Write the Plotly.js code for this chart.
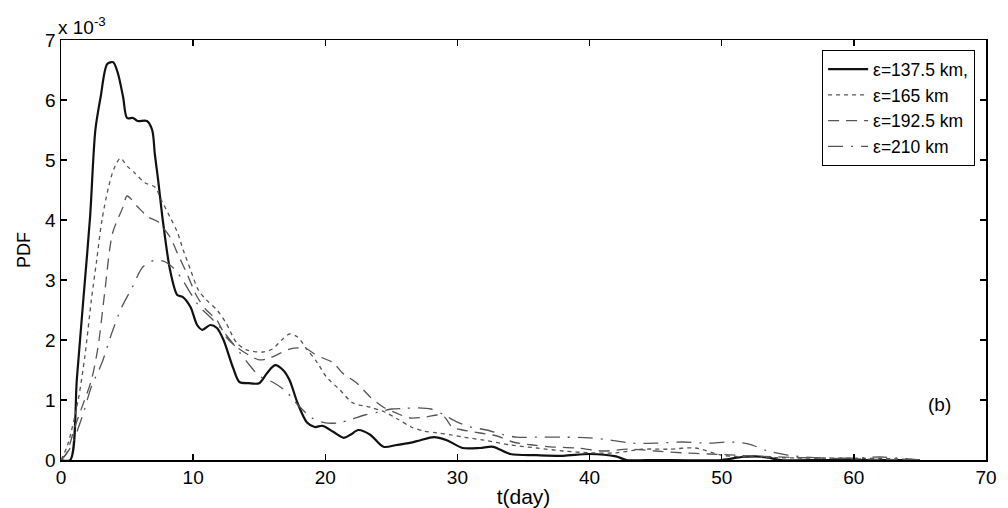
<!DOCTYPE html>
<html>
<head>
<meta charset="utf-8">
<script src="https://cdn.plot.ly/plotly-3.0.1.min.js"></script>
<style>body{margin:0;background:#fff}#chart{width:1008px;height:508px}</style>
</head>
<body>
<div id="chart"></div>
<script>
// Values in units of 10^-3
const seriesNames = ['ε=137.5 km,', 'ε=165 km', 'ε=192.5 km', 'ε=210 km'];

const t1 = [0, 0.7, 1.2, 1.7, 2.2, 2.6, 3.0, 3.5, 3.95, 4.3, 4.7, 5.0, 5.45, 5.8, 6.5, 6.9, 7.1, 7.35, 7.7, 8.25, 8.8, 9.2, 9.8, 10.3, 10.7, 11.3, 11.8, 12.3, 13.0, 13.5, 14.2, 15.0, 15.6, 16.2, 16.8, 17.3, 17.9, 18.6, 19.2, 19.8, 20.6, 21.4, 21.9, 22.5, 23.4, 24.4, 25.4, 26.3, 27.2, 28.2, 29.2, 30.4, 31.7, 32.7, 34.0, 36, 38, 40, 42, 42.8, 45, 50, 51.5, 52.5, 53.5, 54.5, 58, 65];
const v1 = [0, 0, 1.35, 2.7, 4.05, 5.5, 6.05, 6.6, 6.63, 6.45, 6.05, 5.7, 5.7, 5.65, 5.65, 5.5, 5.1, 4.67, 4.0, 3.17, 2.75, 2.72, 2.55, 2.25, 2.17, 2.25, 2.2, 2.0, 1.55, 1.3, 1.28, 1.28, 1.45, 1.58, 1.5, 1.33, 0.95, 0.63, 0.55, 0.57, 0.47, 0.37, 0.42, 0.5, 0.42, 0.22, 0.25, 0.28, 0.33, 0.38, 0.33, 0.2, 0.2, 0.22, 0.1, 0.08, 0.07, 0.1, 0.06, 0.0, 0.0, 0.0, 0.05, 0.06, 0.04, 0.0, 0.0, 0.0];

const t2 = [0, 0.5, 1.3, 1.8, 2.3, 2.7, 3.1, 3.6, 4.0, 4.5, 5.0, 5.6, 6.35, 7.1, 7.6, 8.25, 8.8, 9.25, 9.8, 10.4, 11.0, 11.8, 12.5, 13.3, 14.1, 15.3, 16.0, 16.7, 17.3, 17.9, 18.6, 19.4, 20.1, 21.1, 22.1, 23.4, 24.5, 25.5, 26.5, 27.5, 28.5, 29.5, 30.5, 32, 34, 36, 38, 40, 42, 44, 46, 48, 50, 52, 54, 57, 60, 63, 65];
const v2 = [0, 0.25, 1.0, 1.72, 2.67, 3.33, 4.0, 4.55, 4.85, 5.03, 4.9, 4.78, 4.62, 4.55, 4.33, 4.05, 3.8, 3.5, 3.17, 2.83, 2.67, 2.5, 2.28, 1.95, 1.83, 1.8, 1.85, 2.0, 2.1, 2.05, 1.85, 1.62, 1.38, 1.17, 0.95, 0.88, 0.8, 0.68, 0.55, 0.48, 0.45, 0.42, 0.38, 0.33, 0.25, 0.2, 0.15, 0.12, 0.12, 0.18, 0.18, 0.2, 0.08, 0.05, 0.04, 0.03, 0.03, 0.02, 0];

const t3 = [0, 0.4, 1.05, 1.7, 2.3, 2.8, 3.3, 3.9, 4.7, 5.0, 5.8, 6.6, 7.35, 7.8, 8.3, 8.8, 9.5, 10.3, 11.0, 11.8, 12.5, 13.3, 14.2, 15.0, 15.8, 16.6, 17.3, 18.0, 18.6, 19.1, 19.8, 20.6, 21.3, 22.4, 23.4, 24.4, 25.4, 26.4, 27.7, 28.5, 29.0, 29.6, 30.4, 31.7, 33.0, 34.2, 35.7, 37, 39, 41, 43, 45, 47, 49, 51, 53, 56, 60, 65];
const v3 = [0, 0.1, 0.55, 0.95, 1.33, 1.88, 2.78, 3.78, 4.22, 4.4, 4.22, 4.05, 3.97, 3.85, 3.7, 3.45, 3.12, 2.72, 2.5, 2.33, 2.05, 1.88, 1.75, 1.67, 1.7, 1.78, 1.85, 1.87, 1.85, 1.78, 1.7, 1.62, 1.45, 1.28, 1.05, 0.88, 0.78, 0.7, 0.72, 0.75, 0.72, 0.55, 0.5, 0.45, 0.4, 0.3, 0.25, 0.22, 0.2, 0.15, 0.18, 0.15, 0.12, 0.1, 0.08, 0.06, 0.04, 0.02, 0];

const t4 = [0, 0.7, 1.6, 2.3, 3.1, 3.85, 4.6, 5.4, 6.2, 7.1, 7.9, 8.5, 9.2, 9.8, 10.5, 11.3, 12.0, 12.8, 13.5, 14.2, 15.0, 16.0, 17.0, 18.0, 19.0, 20.0, 21.0, 22.0, 23.0, 24.0, 25.0, 26.0, 27.0, 28.0, 29.0, 30.0, 31.0, 32.2, 33.5, 34.5, 36, 38, 40, 41.6, 43.3, 45, 47, 49, 50.5, 52, 53.5, 55, 57, 60, 62, 65];
const v4 = [0, 0.2, 0.72, 1.22, 1.62, 2.12, 2.55, 2.88, 3.22, 3.33, 3.3, 3.2, 3.0, 2.78, 2.55, 2.38, 2.22, 2.0, 1.8, 1.6, 1.4, 1.3, 1.15, 0.9, 0.7, 0.62, 0.62, 0.68, 0.75, 0.8, 0.85, 0.86, 0.87, 0.85, 0.75, 0.63, 0.55, 0.5, 0.42, 0.38, 0.38, 0.38, 0.37, 0.33, 0.28, 0.28, 0.3, 0.28, 0.3, 0.27, 0.15, 0.08, 0.04, 0.03, 0.05, 0];

const xTicks = [0, 10, 20, 30, 40, 50, 60, 70];
const yTicks = [0, 1, 2, 3, 4, 5, 6, 7];

const FONT = 'Liberation Sans, Arial, sans-serif';
const traces = [
  {x: t1, y: v1, name: seriesNames[0], line: {color: '#111', width: 2.2, dash: 'solid'}},
  {x: t2, y: v2, name: seriesNames[1], line: {color: '#555', width: 1.3, dash: '4px,4px'}},
  {x: t3, y: v3, name: seriesNames[2], line: {color: '#555', width: 1.3, dash: '11px,7px'}},
  {x: t4, y: v4, name: seriesNames[3], line: {color: '#555', width: 1.3, dash: '15px,8px,2px,8px'}}
].map(tr => Object.assign({type: 'scatter', mode: 'lines'}, tr));
traces.forEach(tr => { tr.line.shape = 'spline'; tr.line.smoothing = 0.8; });

const axisCommon = {
  showgrid: false, zeroline: false, showline: true, linecolor: '#000', linewidth: 1.5,
  mirror: 'ticks', ticks: 'inside', ticklen: 6, tickwidth: 1.3, tickcolor: '#000',
  tickfont: {family: FONT, size: 19, color: '#000'}
};

const layout = {
  width: 1008, height: 508,
  margin: {l: 61, r: 22, t: 40, b: 48},
  paper_bgcolor: '#fff', plot_bgcolor: '#fff',
  showlegend: true,
  legend: {
    x: 0.988, y: 0.976, xanchor: 'right', yanchor: 'top',
    bgcolor: '#fff', bordercolor: '#000', borderwidth: 1.2,
    font: {family: FONT, size: 17.5, color: '#000'},
    tracegroupgap: 0, itemwidth: 40
  },
  xaxis: Object.assign({}, axisCommon, {
    range: [0, 70], tickvals: xTicks, ticktext: xTicks.map(String),
    title: {text: 't(day)', font: {family: FONT, size: 21, color: '#000'}, standoff: 2}
  }),
  yaxis: Object.assign({}, axisCommon, {
    range: [0, 7], tickvals: yTicks, ticktext: yTicks.map(String),
    title: {text: 'PDF', font: {family: FONT, size: 18, color: '#000'}, standoff: 10}
  }),
  annotations: [
    {xref: 'paper', yref: 'paper', x: -0.005, y: 1.0, xanchor: 'left', yanchor: 'bottom',
     text: 'x 10<sup>-3</sup>', showarrow: false, font: {family: FONT, size: 19, color: '#000'}},
    {xref: 'x', yref: 'y', x: 66.5, y: 0.92, text: '(b)', showarrow: false,
     font: {family: FONT, size: 19, color: '#000'}}
  ]
};

Plotly.newPlot('chart', traces, layout, {displayModeBar: false, staticPlot: true});
</script>
</body>
</html>
